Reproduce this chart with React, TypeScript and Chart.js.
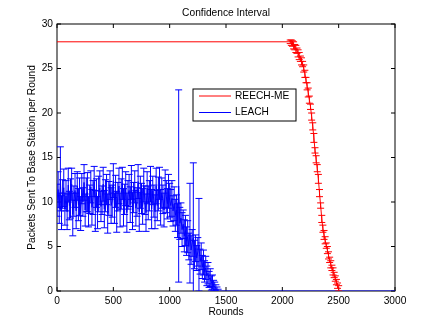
import React, { useEffect, useRef } from 'react';
import { Chart, registerables } from 'chart.js';

Chart.register(...registerables);

const TITLE = 'Confidence Interval';
const X_LABEL = 'Rounds';
const Y_LABEL = 'Packets Sent To Base Station per Round';
const X_TICKS = [0, 500, 1000, 1500, 2000, 2500, 3000];
const Y_TICKS = [0, 5, 10, 15, 20, 25, 30];
const SERIES_NAMES = ['REECH-ME', 'LEACH'];

const REECH_ROUNDS = [
  0,
  2070, 2080, 2090, 2100, 2110, 2120, 2130, 2140, 2150, 2160,
  2170, 2180, 2190, 2200, 2210, 2220, 2230, 2240, 2250, 2260,
  2270, 2280, 2290, 2300, 2310, 2320, 2330, 2340, 2350, 2360,
  2370, 2380, 2390, 2400, 2410, 2420, 2430, 2440, 2450, 2460,
  2470, 2480, 2490, 2500,
];
const REECH_VALUES = [
  28,
  28.0, 27.9, 27.8, 27.6, 27.4, 27.2, 27.0, 26.7, 26.4, 26.1,
  25.8, 25.5, 25.0, 24.4, 23.7, 23.0, 22.3, 21.5, 20.7, 19.6,
  18.5, 17.2, 15.8, 14.8, 13.8, 12.6, 11.0, 9.6, 8.1, 7.0,
  6.3, 5.7, 5.1, 4.6, 4.0, 3.5, 3.0, 2.6, 2.2, 1.8,
  1.4, 1.0, 0.6, 0.3,
];
const REECH_ERRORS = [
  0,
  0.2, 0.3, 0.3, 0.4, 0.3, 0.4, 0.3, 0.4, 0.4, 0.3,
  0.4, 0.3, 0.4, 0.4, 0.3, 0.4, 0.5, 0.4, 0.3, 0.4,
  0.4, 0.5, 0.3, 0.4, 0.4, 0.5, 0.4, 0.3, 0.4, 0.4,
  0.5, 0.4, 0.3, 0.4, 0.4, 0.3, 0.4, 0.3, 0.4, 0.3,
  0.3, 0.3, 0.3, 0.3,
];

const LEACH_ROUNDS = [
  0, 10, 20, 30, 40, 50, 60, 70, 80, 90,
  100, 110, 120, 130, 140, 150, 160, 170, 180, 190,
  200, 210, 220, 230, 240, 250, 260, 270, 280, 290,
  300, 310, 320, 330, 340, 350, 360, 370, 380, 390,
  400, 410, 420, 430, 440, 450, 460, 470, 480, 490,
  500, 510, 520, 530, 540, 550, 560, 570, 580, 590,
  600, 610, 620, 630, 640, 650, 660, 670, 680, 690,
  700, 710, 720, 730, 740, 750, 760, 770, 780, 790,
  800, 810, 820, 830, 840, 850, 860, 870, 880, 890,
  900, 910, 920, 930, 940, 950, 960, 970, 980, 990,
  1000, 1010, 1020, 1030, 1040, 1050, 1060, 1070, 1080, 1090,
  1100, 1110, 1120, 1130, 1140, 1150, 1160, 1170, 1180, 1190,
  1200, 1210, 1220, 1230, 1240, 1250, 1260, 1270, 1280, 1290,
  1300, 1310, 1320, 1330, 1340, 1350, 1360, 1370, 1380, 1390,
  1400, 1410, 1420, 1430, 1440, 3000,
];
const LEACH_VALUES = [
  10.2, 11.4, 9.3, 12.6, 8.8, 10.9, 11.6, 9.2, 10.7, 8.9,
  11.9, 9.6, 10.4, 12.0, 8.6, 10.1, 11.3, 9.0, 11.8, 9.7,
  10.6, 8.7, 11.5, 10.0, 12.2, 9.1, 10.8, 11.1, 8.9, 10.3,
  11.7, 9.4, 10.5, 12.3, 9.0, 11.0, 8.8, 10.9, 11.6, 9.5,
  10.2, 12.0, 9.2, 10.7, 11.4, 8.7, 10.4, 11.9, 9.6, 10.1,
  12.4, 9.3, 11.2, 8.9, 10.6, 11.8, 9.1, 10.9, 12.1, 9.4,
  10.3, 11.5, 8.8, 10.8, 11.3, 9.7, 12.2, 9.0, 10.5, 11.7,
  9.3, 10.0, 12.3, 8.9, 11.1, 10.4, 9.5, 11.9, 10.2, 8.8,
  11.6, 9.9, 10.7, 12.0, 9.2, 11.3, 10.1, 8.9, 11.8, 9.6,
  10.9, 12.1, 9.4, 11.0, 10.3, 9.1, 11.5, 10.6, 9.8, 11.2,
  10.2, 9.6, 10.4, 9.0, 9.8, 8.5, 9.1, 7.9, 11.8, 7.6,
  8.2, 6.9, 7.5, 6.2, 6.8, 5.6, 6.1, 5.0, 6.5, 4.6,
  5.4, 6.0, 4.1, 4.8, 3.7, 4.4, 5.2, 3.3, 3.9, 2.7,
  3.2, 2.2, 2.6, 1.7, 2.0, 1.3, 1.5, 0.9, 1.0, 0.6,
  0.5, 0.3, 0.15, 0, 0, 0,
];
const LEACH_ERRORS = [
  1.8, 2.0, 1.7, 3.6, 1.9, 1.6, 2.1, 1.8, 1.7, 2.0,
  1.9, 1.6, 2.2, 1.8, 2.4, 1.7, 1.9, 2.0, 1.6, 1.8,
  2.1, 1.9, 1.7, 1.6, 2.0, 1.8, 1.9, 2.2, 1.7, 1.6,
  1.8, 2.0, 1.9, 1.7, 2.3, 1.6, 1.8, 2.0, 1.9, 1.7,
  1.6, 1.9, 2.1, 1.8, 1.7, 2.2, 1.9, 1.6, 2.0, 1.8,
  1.9, 1.7, 1.8, 2.3, 1.6, 2.0, 1.9, 1.7, 1.8, 2.1,
  1.7, 1.9, 2.2, 1.6, 1.8, 2.0, 1.9, 2.1, 1.7, 1.8,
  2.0, 1.6, 1.9, 2.2, 1.8, 1.7, 2.0, 1.9, 1.6, 2.1,
  1.8, 1.9, 1.7, 2.0, 2.2, 1.6, 1.8, 1.9, 2.0, 1.7,
  1.9, 1.8, 2.0, 1.7, 1.6, 1.9, 2.1, 1.8, 1.7, 1.9,
  1.9, 1.8, 2.0, 1.7, 1.9, 1.8, 1.7, 1.9, 10.8, 1.8,
  1.7, 1.9, 1.6, 1.8, 1.7, 1.6, 1.8, 1.5, 5.6, 1.6,
  1.5, 8.4, 1.6, 1.5, 1.4, 1.6, 5.2, 1.4, 1.5, 1.3,
  1.4, 1.2, 1.3, 1.1, 1.2, 0.9, 1.0, 0.8, 0.8, 0.6,
  0.5, 0.4, 0.3, 0.2, 0, 0,
];

const RED = '#ff0000';
const BLUE = '#0000ff';
const FONT = '"Liberation Sans", Arial, Helvetica, sans-serif';
const FS = 10.2;

export default function App() {
  const ref = useRef<HTMLCanvasElement>(null);

  useEffect(() => {
    document.body.style.margin = '0';
    const canvas = ref.current;
    if (!canvas) return;

    const errorBars = {
      id: 'errorBars',
      afterDatasetDraw(chart: any, args: any) {
        const ds: any = chart.data.datasets[args.index];
        const errs: number[] = ds.errors;
        if (!errs) return;
        const ctx = chart.ctx;
        const ys = chart.scales.y;
        const a = chart.chartArea;
        ctx.save();
        ctx.beginPath();
        ctx.rect(a.left, a.top, a.right - a.left, a.bottom - a.top);
        ctx.clip();
        ctx.strokeStyle = ds.borderColor;
        ctx.lineWidth = 1;
        ctx.beginPath();
        args.meta.data.forEach((pt: any, i: number) => {
          const e = errs[i];
          if (!e) return;
          const v = ds.data[i].y;
          const x = pt.x;
          const y1 = ys.getPixelForValue(v + e);
          const y2 = ys.getPixelForValue(v - e);
          ctx.moveTo(x, y1);
          ctx.lineTo(x, y2);
          ctx.moveTo(x - 3.5, y1);
          ctx.lineTo(x + 3.5, y1);
          ctx.moveTo(x - 3.5, y2);
          ctx.lineTo(x + 3.5, y2);
        });
        ctx.stroke();
        ctx.restore();
      },
    };

    const frame = {
      id: 'frame',
      beforeDatasetsDraw(chart: any) {
        const { ctx, chartArea: a, scales } = chart;
        ctx.save();
        ctx.strokeStyle = '#000';
        ctx.lineWidth = 1;
        ctx.strokeRect(a.left, a.top, a.right - a.left, a.bottom - a.top);
        ctx.beginPath();
        const tl = 4;
        X_TICKS.forEach((t) => {
          const x = scales.x.getPixelForValue(t);
          ctx.moveTo(x, a.bottom);
          ctx.lineTo(x, a.bottom - tl);
          ctx.moveTo(x, a.top);
          ctx.lineTo(x, a.top + tl);
        });
        Y_TICKS.forEach((t) => {
          const y = scales.y.getPixelForValue(t);
          ctx.moveTo(a.left, y);
          ctx.lineTo(a.left + tl, y);
          ctx.moveTo(a.right, y);
          ctx.lineTo(a.right - tl, y);
        });
        ctx.stroke();
        ctx.restore();
      },
      afterDraw(chart: any) {
        const { ctx, chartArea: a } = chart;
        ctx.save();
        ctx.fillStyle = '#000';
        ctx.font = `${FS}px ${FONT}`;
        ctx.textAlign = 'center';
        ctx.textBaseline = 'middle';
        ctx.fillText(TITLE, (a.left + a.right) / 2, 13.5);

        const lx = 193, ly = 89, lw = 103, lh = 32;
        ctx.fillStyle = '#fff';
        ctx.fillRect(lx, ly, lw, lh);
        ctx.strokeStyle = '#000';
        ctx.lineWidth = 1;
        ctx.strokeRect(lx, ly, lw, lh);
        const rows = [
          { name: SERIES_NAMES[0], color: RED, y: 96 },
          { name: SERIES_NAMES[1], color: BLUE, y: 112.5 },
        ];
        ctx.textAlign = 'left';
        rows.forEach((r) => {
          ctx.strokeStyle = r.color;
          ctx.beginPath();
          ctx.moveTo(199, r.y);
          ctx.lineTo(231, r.y);
          ctx.stroke();
          ctx.fillStyle = '#000';
          ctx.fillText(r.name, 235, r.y);
        });
        ctx.restore();
      },
    };

    const chart = new Chart(canvas, {
      type: 'line',
      data: {
        datasets: [
          {
            label: SERIES_NAMES[0],
            data: REECH_ROUNDS.map((x, i) => ({ x, y: REECH_VALUES[i] })),
            borderColor: RED,
            backgroundColor: RED,
            borderWidth: 1,
            pointRadius: 0,
            tension: 0,
            errors: REECH_ERRORS,
          } as any,
          {
            label: SERIES_NAMES[1],
            data: LEACH_ROUNDS.map((x, i) => ({ x, y: LEACH_VALUES[i] })),
            borderColor: BLUE,
            backgroundColor: BLUE,
            borderWidth: 1,
            pointRadius: 0,
            tension: 0,
            errors: LEACH_ERRORS,
          } as any,
        ],
      },
      options: {
        animation: false,
        responsive: false,
        devicePixelRatio: 1,
        layout: { padding: { top: 24, right: 41, left: 0, bottom: 0 } },
        plugins: {
          legend: { display: false },
          tooltip: { enabled: false },
          title: { display: false },
        },
        scales: {
          x: {
            type: 'linear',
            min: 0,
            max: 3000,
            afterBuildTicks: (s: any) => {
              s.ticks = X_TICKS.map((v) => ({ value: v }));
            },
            afterFit: (s: any) => {
              s.height = 36;
            },
            grid: { display: false, drawTicks: false, tickLength: 0 },
            border: { display: false },
            ticks: {
              color: '#000',
              font: { family: FONT, size: FS },
              padding: 4,
              maxRotation: 0,
              autoSkip: false,
              callback: (v: any) => String(v),
            },
            title: {
              display: true,
              text: X_LABEL,
              color: '#000',
              font: { family: FONT, size: FS },
              padding: { top: 0, bottom: 9 },
            },
          },
          y: {
            type: 'linear',
            min: 0,
            max: 30,
            afterBuildTicks: (s: any) => {
              s.ticks = Y_TICKS.map((v) => ({ value: v }));
            },
            afterFit: (s: any) => {
              s.width = 57;
            },
            grid: { display: false, drawTicks: false, tickLength: 0 },
            border: { display: false },
            ticks: {
              color: '#000',
              font: { family: FONT, size: FS },
              padding: 4,
              autoSkip: false,
              callback: (v: any) => String(v),
            },
            title: {
              display: true,
              text: Y_LABEL,
              color: '#000',
              font: { family: FONT, size: FS },
              padding: { top: 26, bottom: 0 },
            },
          },
        },
      },
      plugins: [frame, errorBars],
    } as any);

    return () => chart.destroy();
  }, []);

  return (
    <div style={{ width: 436, height: 327, background: '#fff' }}>
      <canvas ref={ref} width={436} height={327} style={{ display: 'block' }} />
    </div>
  );
}
